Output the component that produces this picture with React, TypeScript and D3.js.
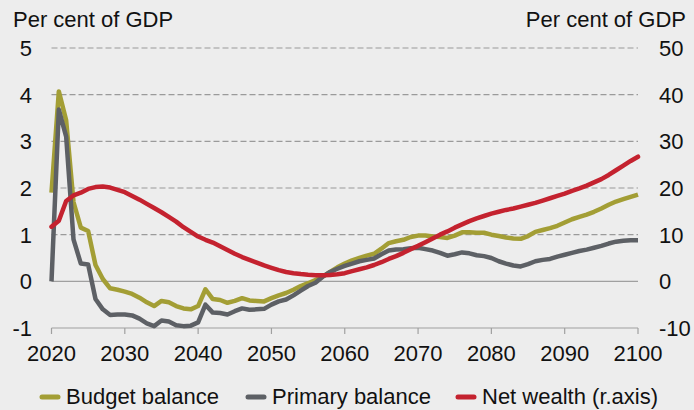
import * as d3 from "d3";

const WIDTH = 694;
const HEIGHT = 410;
const MARGIN = { top: 48, right: 56, bottom: 82, left: 51.5 };

// years on the x axis
const years = d3.range(2020, 2101);
const yearTicks = [2020, 2030, 2040, 2050, 2060, 2070, 2080, 2090, 2100];
const leftTicks = [-1, 0, 1, 2, 3, 4, 5];
const rightTicks = [-10, 0, 10, 20, 30, 40, 50];

// Per cent of GDP, left axis
const budgetBalance = [
  1.9, 4.07, 3.45, 1.7, 1.15, 1.08, 0.35, 0.05, -0.15, -0.18,
  -0.22, -0.27, -0.35, -0.45, -0.53, -0.42, -0.45, -0.53, -0.58, -0.6,
  -0.53, -0.17, -0.38, -0.4, -0.46, -0.42, -0.36, -0.41, -0.42, -0.43,
  -0.36, -0.3, -0.25, -0.18, -0.1, -0.04, 0.03, 0.1, 0.2, 0.3,
  0.38, 0.45, 0.5, 0.55, 0.59, 0.7, 0.82, 0.86, 0.89, 0.95,
  0.98, 0.98, 0.96, 0.95, 0.93, 0.98, 1.05, 1.05, 1.04, 1.04,
  1.0, 0.97, 0.94, 0.92, 0.91, 0.97, 1.06, 1.1, 1.14, 1.19,
  1.26, 1.33, 1.38, 1.43, 1.49, 1.56, 1.64, 1.71, 1.76, 1.81,
  1.86,
];

const primaryBalance = [
  0, 3.68, 3.1, 0.9, 0.38, 0.36, -0.38, -0.6, -0.72, -0.71,
  -0.71, -0.73, -0.8, -0.9, -0.96, -0.84, -0.86, -0.94, -0.96, -0.95,
  -0.88, -0.5, -0.67, -0.68, -0.71, -0.64, -0.58, -0.61, -0.6, -0.59,
  -0.5, -0.43, -0.39, -0.3, -0.2, -0.1, -0.03, 0.1, 0.2, 0.27,
  0.33, 0.38, 0.43, 0.46, 0.49, 0.58, 0.66, 0.68, 0.69, 0.71,
  0.72, 0.69, 0.66, 0.61, 0.55, 0.58, 0.62, 0.6, 0.56, 0.54,
  0.5, 0.43, 0.38, 0.34, 0.32, 0.37, 0.43, 0.46, 0.48, 0.53,
  0.57, 0.61, 0.65, 0.68, 0.72, 0.76, 0.81, 0.85, 0.87, 0.88,
  0.88,
];

// Per cent of GDP, right axis
const netWealth = [
  11.7, 13.0, 17.2, 18.4, 19.0, 19.8, 20.2, 20.3, 20.1, 19.6,
  19.1, 18.3, 17.5, 16.6, 15.7, 14.8, 13.8, 12.8, 11.6, 10.6,
  9.6, 8.9, 8.3, 7.5, 6.7, 5.9, 5.2, 4.6, 4.0, 3.4,
  2.9, 2.4, 2.0, 1.75, 1.55, 1.4, 1.3, 1.3, 1.35, 1.5,
  1.75, 2.2, 2.6, 3.0, 3.5, 4.1, 4.8, 5.4, 6.1, 6.9,
  7.6, 8.4, 9.2, 10.0, 10.7, 11.5, 12.2, 12.9, 13.5, 14.0,
  14.5, 14.9, 15.3, 15.6, 16.0, 16.4, 16.8, 17.3, 17.8, 18.3,
  18.8, 19.4, 19.9, 20.5, 21.2, 21.9, 22.8, 23.8, 24.8, 25.8,
  26.7,
];

const COLORS = { budget: "#a39e35", primary: "#5d6065", wealth: "#c4222f" };
const FONT = "Arial, 'Liberation Sans', Helvetica, sans-serif";
const FONT_SIZE = 22;

const legendItems = [
  { label: "Budget balance", color: COLORS.budget, x: 40 },
  { label: "Primary balance", color: COLORS.primary, x: 246 },
  { label: "Net wealth (r.axis)", color: COLORS.wealth, x: 456 },
];

export default function App() {
  const x0 = MARGIN.left;
  const x1 = WIDTH - MARGIN.right;
  const yTop = MARGIN.top;
  const yBottom = HEIGHT - MARGIN.bottom;

  const xScale = d3.scaleLinear().domain([2020, 2100]).range([x0, x1]);
  const yLeft = d3.scaleLinear().domain([-1, 5]).range([yBottom, yTop]);
  const yRight = d3.scaleLinear().domain([-10, 50]).range([yBottom, yTop]);

  const leftLine = d3
    .line<number>()
    .x((_, i) => xScale(years[i]))
    .y((d) => yLeft(d));
  const rightLine = d3
    .line<number>()
    .x((_, i) => xScale(years[i]))
    .y((d) => yRight(d));

  return (
    <svg
      width={WIDTH}
      height={HEIGHT}
      style={{ position: "absolute", left: 0, top: 0, background: "#ededed" }}
      fontFamily={FONT}
    >
      <rect width={WIDTH} height={HEIGHT} fill="#ededed" />

      {/* axis titles */}
      <text x={13} y={27} fontSize={FONT_SIZE} fill="#111">
        Per cent of GDP
      </text>
      <text x={686} y={27} fontSize={FONT_SIZE} fill="#111" textAnchor="end">
        Per cent of GDP
      </text>

      {/* grid */}
      {leftTicks.map((t) => {
        const y = yLeft(t);
        const solid = t <= 0;
        return (
          <line
            key={t}
            x1={x0}
            x2={x1}
            y1={y}
            y2={y}
            stroke={solid ? "#a0a0a0" : "#9a9a9a"}
            strokeWidth={1.2}
            strokeDasharray={solid ? undefined : "6,3"}
          />
        );
      })}

      {/* x ticks */}
      {yearTicks.map((yr) => (
        <g key={yr}>
          <line
            x1={xScale(yr)}
            x2={xScale(yr)}
            y1={yBottom}
            y2={yBottom + 6}
            stroke="#a0a0a0"
            strokeWidth={1.2}
          />
          <text
            x={xScale(yr)}
            y={yBottom + 33}
            fontSize={FONT_SIZE}
            textAnchor="middle"
            fill="#111"
          >
            {yr}
          </text>
        </g>
      ))}

      {/* left tick labels */}
      {leftTicks.map((t) => (
        <text
          key={t}
          x={32}
          y={yLeft(t) + 8}
          fontSize={FONT_SIZE}
          textAnchor="end"
          fill="#111"
        >
          {t}
        </text>
      ))}

      {/* right tick labels */}
      {rightTicks.map((t) => (
        <text
          key={t}
          x={659}
          y={yRight(t) + 8}
          fontSize={FONT_SIZE}
          fill="#111"
        >
          {t}
        </text>
      ))}

      {/* series */}
      <path
        d={leftLine(budgetBalance) || ""}
        fill="none"
        stroke={COLORS.budget}
        strokeWidth={4.5}
        strokeLinejoin="round"
      />
      <path
        d={leftLine(primaryBalance) || ""}
        fill="none"
        stroke={COLORS.primary}
        strokeWidth={4.5}
        strokeLinejoin="round"
      />
      <path
        d={rightLine(netWealth) || ""}
        fill="none"
        stroke={COLORS.wealth}
        strokeWidth={4.5}
        strokeLinejoin="round"
        strokeLinecap="round"
      />

      {/* legend */}
      {legendItems.map((item) => (
        <g key={item.label}>
          <line
            x1={item.x + 2}
            x2={item.x + 18}
            y1={397}
            y2={397}
            stroke={item.color}
            strokeWidth={5}
            strokeLinecap="round"
          />
          <text x={item.x + 26} y={404} fontSize={FONT_SIZE} fill="#111">
            {item.label}
          </text>
        </g>
      ))}
    </svg>
  );
}
